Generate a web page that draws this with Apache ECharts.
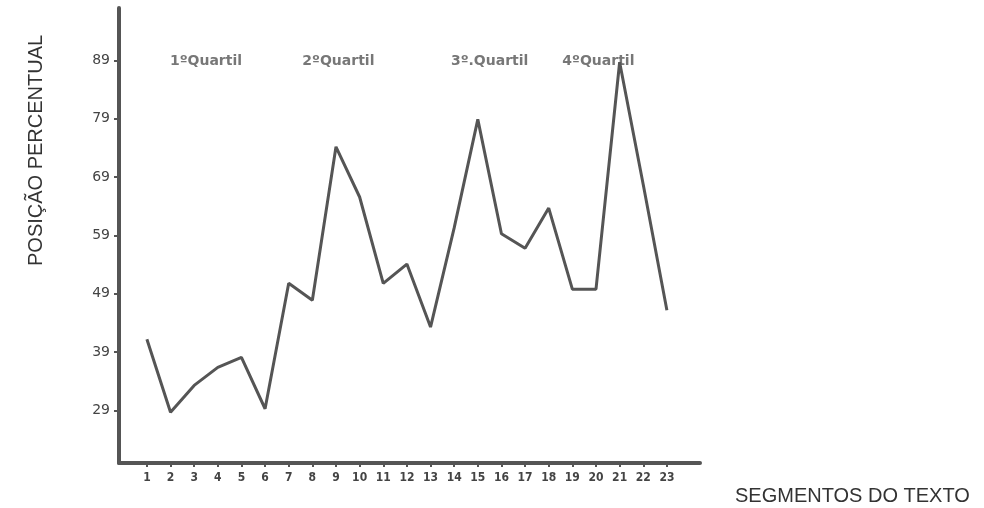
<!DOCTYPE html>
<html>
<head>
<meta charset="utf-8">
<script src="https://cdn.jsdelivr.net/npm/echarts@6/dist/echarts.min.js"></script>
<style>
html,body{margin:0;padding:0;background:#fff;}
#chart{width:984px;height:508px;}
</style>
</head>
<body>
<div id="chart"></div>
<script>
// ---- data ----
const segments = [1,2,3,4,5,6,7,8,9,10,11,12,13,14,15,16,17,18,19,20,21,22,23];
const positions = [41.2,28.7,33.3,36.4,38.1,29.3,50.8,47.9,74.2,65.6,50.8,54.1,43.3,60.3,78.9,59.3,56.8,63.7,49.8,49.8,88.7,67.7,46.2];
const yTickValues = [29,39,49,59,69,79,89];
const yTickLabels = ['29','39','49','59','69','79','89'];
const xTickLabels = ['1','2','3','4','5','6','7','8','9','10','11','12','13','14','15','16','17','18','19','20','21','22','23'];
const quartileNames = ['1ºQuartil','2ºQuartil','3º.Quartil','4ºQuartil'];
const quartileAnchorX = [3.5,9.1,15.5,20.1];
const quartileAnchorY = [88.8,88.8,88.8,88.8];

const chart = echarts.init(document.getElementById('chart'), null, {renderer:'canvas'});
const ink = '#555';
const option = {
  animation:false,
  backgroundColor:'#ffffff',
  grid:{left:119, right:284, top:8, bottom:45, containLabel:false},
  xAxis:{
    type:'value', min:-0.18, max:24.4,
    splitLine:{show:false},
    axisLine:{show:true, onZero:false, lineStyle:{color:ink, width:4}},
    axisTick:{show:true, customValues:segments, length:4, lineStyle:{color:ink, width:2}},
    axisLabel:{show:true, customValues:segments, margin:9,
      formatter:(v)=>xTickLabels[segments.indexOf(Math.round(v))] || '',
      color:'#444', fontSize:12, fontWeight:'bold', fontFamily:'DejaVu Sans Condensed'}
  },
  yAxis:{
    type:'value', min:20, max:98,
    splitLine:{show:false},
    axisLine:{show:true, onZero:false, lineStyle:{color:ink, width:4}},
    axisTick:{show:true, customValues:yTickValues, length:5, lineStyle:{color:ink, width:2}},
    axisLabel:{show:true, customValues:yTickValues, margin:9,
      formatter:(v)=>yTickLabels[yTickValues.indexOf(Math.round(v))] || '',
      color:'#444', fontSize:14, fontFamily:'DejaVu Sans'}
  },
  series:[
    {
      type:'line',
      data:segments.map((s,i)=>[s,positions[i]]),
      symbol:'none',
      lineStyle:{color:ink, width:3},
      z:3
    },
    {
      type:'scatter',
      symbolSize:0,
      data:quartileNames.map((n,i)=>({name:n, value:[quartileAnchorX[i],quartileAnchorY[i]]})),
      label:{show:true, position:'inside', formatter:(p)=>p.name,
        color:'#555', fontSize:14, fontWeight:'bold', fontFamily:'DejaVu Sans'},
      z:2
    }
  ],
  graphic:[
    {type:'text', x:36, y:266, rotation:Math.PI/2,
      style:{text:'POSIÇÃO PERCENTUAL', fill:'#333', font:'20px "Liberation Sans"',
        textAlign:'left', textVerticalAlign:'middle'}},
    {type:'text', x:735, y:496,
      style:{text:'SEGMENTOS DO TEXTO', fill:'#333', font:'20px "Liberation Sans"',
        textAlign:'left', textVerticalAlign:'middle'}}
  ]
};
chart.setOption(option);
</script>
</body>
</html>
